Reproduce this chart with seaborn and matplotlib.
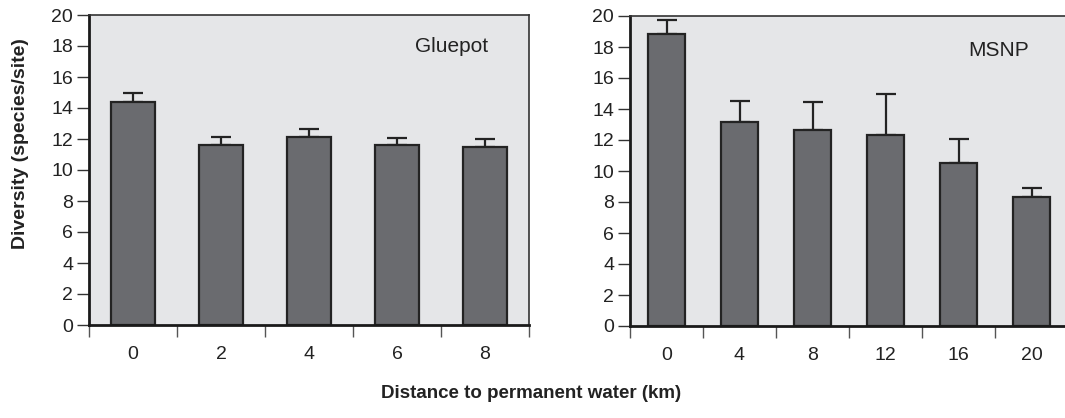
import matplotlib
matplotlib.use("Agg")
import matplotlib.pyplot as plt
import seaborn as sns
import pandas as pd
import numpy as np
from matplotlib.ticker import FixedLocator, NullFormatter, FixedFormatter

sns.set_theme(style="white")
plt.rcParams['font.family'] = ['Liberation Sans', 'DejaVu Sans']

# Data
glue_dist = ["0", "2", "4", "6", "8"]
glue_mean = [14.4, 11.6, 12.1, 11.6, 11.5]
glue_se = [0.6, 0.55, 0.55, 0.45, 0.5]

msnp_dist = ["0", "4", "8", "12", "16", "20"]
msnp_mean = [18.85, 13.15, 12.65, 12.3, 10.5, 8.35]
msnp_se = [0.9, 1.35, 1.8, 2.7, 1.55, 0.55]

yticks = [0, 2, 4, 6, 8, 10, 12, 14, 16, 18, 20]

BAR = "#6a6b6f"
EDGE = "#232323"
BG = "#e5e6e8"

fig = plt.figure(figsize=(10.65, 4.18), dpi=100)
W, H = 1065, 418
ax1 = fig.add_axes([89 / W, (H - 325) / H, 440 / W, 310 / H])
ax2 = fig.add_axes([630 / W, (H - 326) / H, 438 / W, 310 / H])


def panel(ax, cats, means, errs, label, lx, ly):
    df = pd.DataFrame({"dist": cats, "div": means})
    sns.barplot(data=df, x="dist", y="div", ax=ax, color=BAR, saturation=1,
                width=0.5, edgecolor=EDGE, linewidth=1.6, errorbar=None, zorder=2)
    n = len(cats)
    x = np.arange(n)
    ax.errorbar(x, means, yerr=[np.zeros(n), errs], fmt="none", ecolor=EDGE,
                elinewidth=1.6, capsize=7, capthick=1.6, zorder=1)
    ax.set_facecolor(BG)
    ax.set_xlim(-0.5, n - 0.5)
    ax.set_ylim(0, 20)
    ax.set_yticks(yticks)
    ax.set_yticklabels([str(t) for t in yticks])
    ax.xaxis.set_major_locator(FixedLocator(np.arange(n + 1) - 0.5))
    ax.xaxis.set_major_formatter(NullFormatter())
    ax.xaxis.set_minor_locator(FixedLocator(x))
    ax.xaxis.set_minor_formatter(FixedFormatter(cats))
    ax.tick_params(axis="x", which="major", direction="out", length=8.5,
                   width=1.0, color="#555555", bottom=True)
    ax.tick_params(axis="x", which="minor", length=0, pad=15, labelsize=14,
                   labelcolor="#222222", bottom=True)
    ax.tick_params(axis="y", direction="out", length=9, width=1.0,
                   color="#333333", labelsize=14, labelcolor="#222222", pad=2.5, left=True)
    ax.set_xlabel("")
    ax.set_ylabel("")
    for s in ["left", "bottom"]:
        ax.spines[s].set_linewidth(2.0)
        ax.spines[s].set_color("#1a1a1a")
    for s in ["top", "right"]:
        ax.spines[s].set_linewidth(1.2)
        ax.spines[s].set_color("#333333")
    ax.text(lx, ly, label, transform=ax.transAxes, fontsize=15,
            color="#222222", ha="center", va="center")


panel(ax1, glue_dist, glue_mean, glue_se, "Gluepot", 0.823, 0.9)
panel(ax2, msnp_dist, msnp_mean, msnp_se, "MSNP", 0.842, 0.89)

fig.text(21 / W, 1 - 144 / H, "Diversity (species/site)", rotation=90,
         fontsize=14, fontweight="bold", ha="center", va="center", color="#222222")
fig.text(531 / W, 1 - 393 / H, "Distance to permanent water (km)",
         fontsize=13.5, fontweight="bold", ha="center", va="center", color="#222222")

fig.savefig("out.png", dpi=100)
